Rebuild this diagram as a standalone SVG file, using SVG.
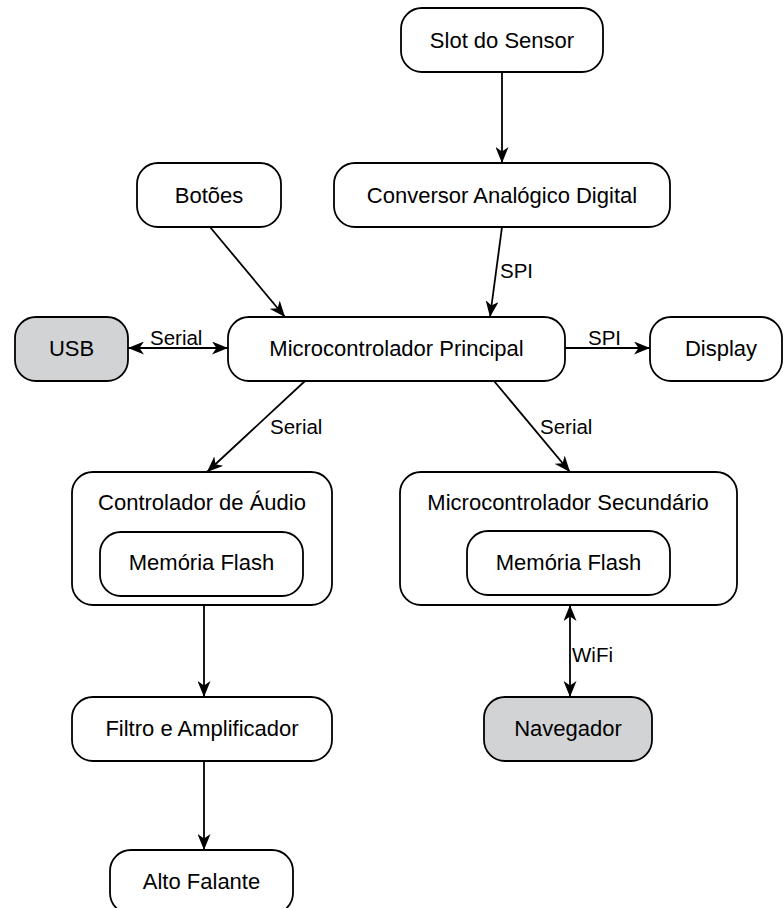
<svg xmlns="http://www.w3.org/2000/svg" width="783" height="908" viewBox="0 0 783 908">
<style>
.box{fill:#fff;stroke:#000;stroke-width:1.8}
.gray{fill:#d1d3d4}
.t{font-family:"Liberation Sans",Arial,sans-serif;font-size:22px;text-anchor:middle;fill:#000}
.lbl{font-family:"Liberation Sans",Arial,sans-serif;font-size:20.5px;fill:#000}
.c{stroke:#000;stroke-width:1.8;fill:none;marker-end:url(#ah)}
.c2{marker-start:url(#ah)}
</style>
<defs>
<marker id="ah" viewBox="0 0 16 13" refX="16" refY="6.5" markerWidth="16" markerHeight="13" markerUnits="userSpaceOnUse" orient="auto-start-reverse">
<path d="M0,0 L16,6.5 L0,13 L4.5,6.5 Z" fill="#000"/>
</marker>
</defs>
<rect width="783" height="908" fill="#fff"/>
<g id="connectors">
<line class="c" x1="502" y1="72" x2="502" y2="163"/>
<line class="c" x1="210" y1="227" x2="285" y2="317"/>
<line class="c" x1="502" y1="227" x2="490" y2="317"/>
<line class="c c2" x1="128" y1="348" x2="228" y2="348"/>
<line class="c" x1="565" y1="348" x2="650" y2="348"/>
<line class="c" x1="305" y1="381" x2="207" y2="472"/>
<line class="c" x1="494" y1="381" x2="570" y2="472"/>
<line class="c" x1="204" y1="605" x2="204" y2="697"/>
<line class="c" x1="204" y1="761" x2="204" y2="850"/>
<line class="c c2" x1="570" y1="605" x2="570" y2="697"/>
<text class="lbl" x="500" y="278">SPI</text>
<text class="lbl" x="150" y="345">Serial</text>
<text class="lbl" x="588" y="345">SPI</text>
<text class="lbl" x="270" y="434">Serial</text>
<text class="lbl" x="540" y="434">Serial</text>
<text class="lbl" x="572" y="662">WiFi</text>
</g>
<g id="slot"><rect class="box" x="401" y="8" width="202" height="64" rx="21"/><text class="t" x="502" y="48">Slot do Sensor</text></g>
<g id="botoes"><rect class="box" x="137" y="163" width="144" height="64" rx="21"/><text class="t" x="209" y="203">Botões</text></g>
<g id="conversor"><rect class="box" x="334" y="163" width="336" height="64" rx="21"/><text class="t" x="502" y="203">Conversor Analógico Digital</text></g>
<g id="usb"><rect class="box gray" x="15" y="317" width="113" height="64" rx="21"/><text class="t" x="71.5" y="356">USB</text></g>
<g id="principal"><rect class="box" x="228" y="317" width="337" height="64" rx="21"/><text class="t" x="396.5" y="356">Microcontrolador Principal</text></g>
<g id="display"><rect class="box" x="650" y="317" width="132" height="64" rx="21"/><text class="t" x="721" y="356">Display</text></g>
<g id="audio"><rect class="box" x="72" y="472" width="260" height="133" rx="21"/><text class="t" x="202" y="510">Controlador de Áudio</text>
<g id="flash1"><rect class="box" x="100" y="532" width="203" height="64" rx="21"/><text class="t" x="201.5" y="570">Memória Flash</text></g></g>
<g id="secundario"><rect class="box" x="400" y="472" width="337" height="133" rx="21"/><text class="t" x="568" y="510">Microcontrolador Secundário</text>
<g id="flash2"><rect class="box" x="467" y="531" width="203" height="64" rx="21"/><text class="t" x="568.5" y="570">Memória Flash</text></g></g>
<g id="filtro"><rect class="box" x="72" y="697" width="260" height="64" rx="21"/><text class="t" x="202" y="736">Filtro e Amplificador</text></g>
<g id="navegador"><rect class="box gray" x="484" y="697" width="168" height="64" rx="21"/><text class="t" x="568" y="736">Navegador</text></g>
<g id="alto"><rect class="box" x="110" y="850" width="183" height="64" rx="21"/><text class="t" x="201.5" y="889">Alto Falante</text></g>
</svg>
